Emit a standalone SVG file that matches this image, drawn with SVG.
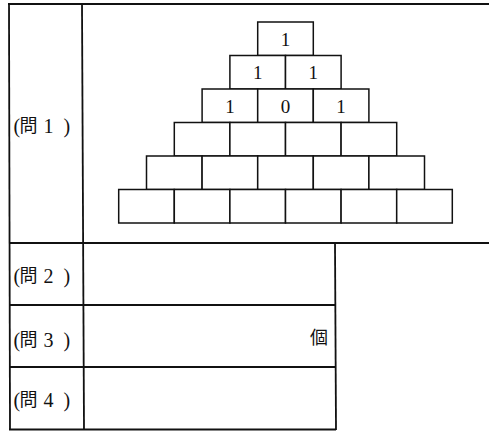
<svg xmlns="http://www.w3.org/2000/svg" width="489" height="431" viewBox="0 0 489 431">
<style>
.frame{stroke:#111;stroke-width:1.8;fill:none}
.cell{stroke:#111;stroke-width:1.5;fill:#fff}
.num{font-family:"Liberation Serif","DejaVu Serif",serif;font-size:19px;fill:#111;text-anchor:middle}
.lab{font-family:"Liberation Serif","Noto Sans CJK JP",serif;font-size:20px;fill:#111}
.cjk{font-family:"Noto Sans CJK JP",sans-serif;font-size:18px}
</style>
<rect width="489" height="431" fill="#fff"/>
<g id="frame" class="frame">
<line x1="8" y1="4" x2="489" y2="4"/>
<line x1="9" y1="4" x2="10" y2="430"/>
<line x1="82" y1="4" x2="84" y2="430"/>
<line x1="9" y1="243" x2="489" y2="243"/>
<line x1="335" y1="243" x2="336" y2="430"/>
<line x1="9" y1="305" x2="336" y2="305"/>
<line x1="9" y1="367" x2="336" y2="367"/>
<line x1="9" y1="429.5" x2="336" y2="429.5"/>
</g>
<g id="pyramid">
<g class="cell">
<rect x="257.7" y="22" width="55.6" height="33.5"/>
<rect x="229.9" y="55.5" width="55.6" height="33.5"/>
<rect x="285.5" y="55.5" width="55.6" height="33.5"/>
<rect x="202.1" y="89" width="55.6" height="33.5"/>
<rect x="257.7" y="89" width="55.6" height="33.5"/>
<rect x="313.3" y="89" width="55.6" height="33.5"/>
<rect x="174.3" y="122.5" width="55.6" height="33.5"/>
<rect x="229.9" y="122.5" width="55.6" height="33.5"/>
<rect x="285.5" y="122.5" width="55.6" height="33.5"/>
<rect x="341.1" y="122.5" width="55.6" height="33.5"/>
<rect x="146.5" y="156" width="55.6" height="33.5"/>
<rect x="202.1" y="156" width="55.6" height="33.5"/>
<rect x="257.7" y="156" width="55.6" height="33.5"/>
<rect x="313.3" y="156" width="55.6" height="33.5"/>
<rect x="368.9" y="156" width="55.6" height="33.5"/>
<rect x="118.7" y="189.5" width="55.6" height="33.5"/>
<rect x="174.3" y="189.5" width="55.6" height="33.5"/>
<rect x="229.9" y="189.5" width="55.6" height="33.5"/>
<rect x="285.5" y="189.5" width="55.6" height="33.5"/>
<rect x="341.1" y="189.5" width="55.6" height="33.5"/>
<rect x="396.7" y="189.5" width="55.6" height="33.5"/>
</g>
<text class="num" x="285.5" y="45.5">1</text>
<text class="num" x="257.7" y="79">1</text>
<text class="num" x="313.3" y="79">1</text>
<text class="num" x="229.9" y="112.5">1</text>
<text class="num" x="285.5" y="112.5">0</text>
<text class="num" x="341.1" y="112.5">1</text>
</g>
<g id="q1"><text class="lab" y="132.5"><tspan x="13.5">(</tspan><tspan class="cjk" x="19.5" dy="-0.5">問</tspan><tspan x="43.5" dy="0.5">1</tspan><tspan x="63.5">)</tspan></text></g>
<g id="q2"><text class="lab" y="282.5"><tspan x="13.5">(</tspan><tspan class="cjk" x="19.5" dy="-0.5">問</tspan><tspan x="43.5" dy="0.5">2</tspan><tspan x="63.5">)</tspan></text></g>
<g id="q3"><text class="lab" y="346.5"><tspan x="13.5">(</tspan><tspan class="cjk" x="19.5" dy="-0.5">問</tspan><tspan x="43.5" dy="0.5">3</tspan><tspan x="63.5">)</tspan></text>
<text class="lab cjk" x="310" y="343.5">個</text></g>
<g id="q4"><text class="lab" y="406.5"><tspan x="13.5">(</tspan><tspan class="cjk" x="19.5" dy="-0.5">問</tspan><tspan x="43.5" dy="0.5">4</tspan><tspan x="63.5">)</tspan></text></g>
</svg>
